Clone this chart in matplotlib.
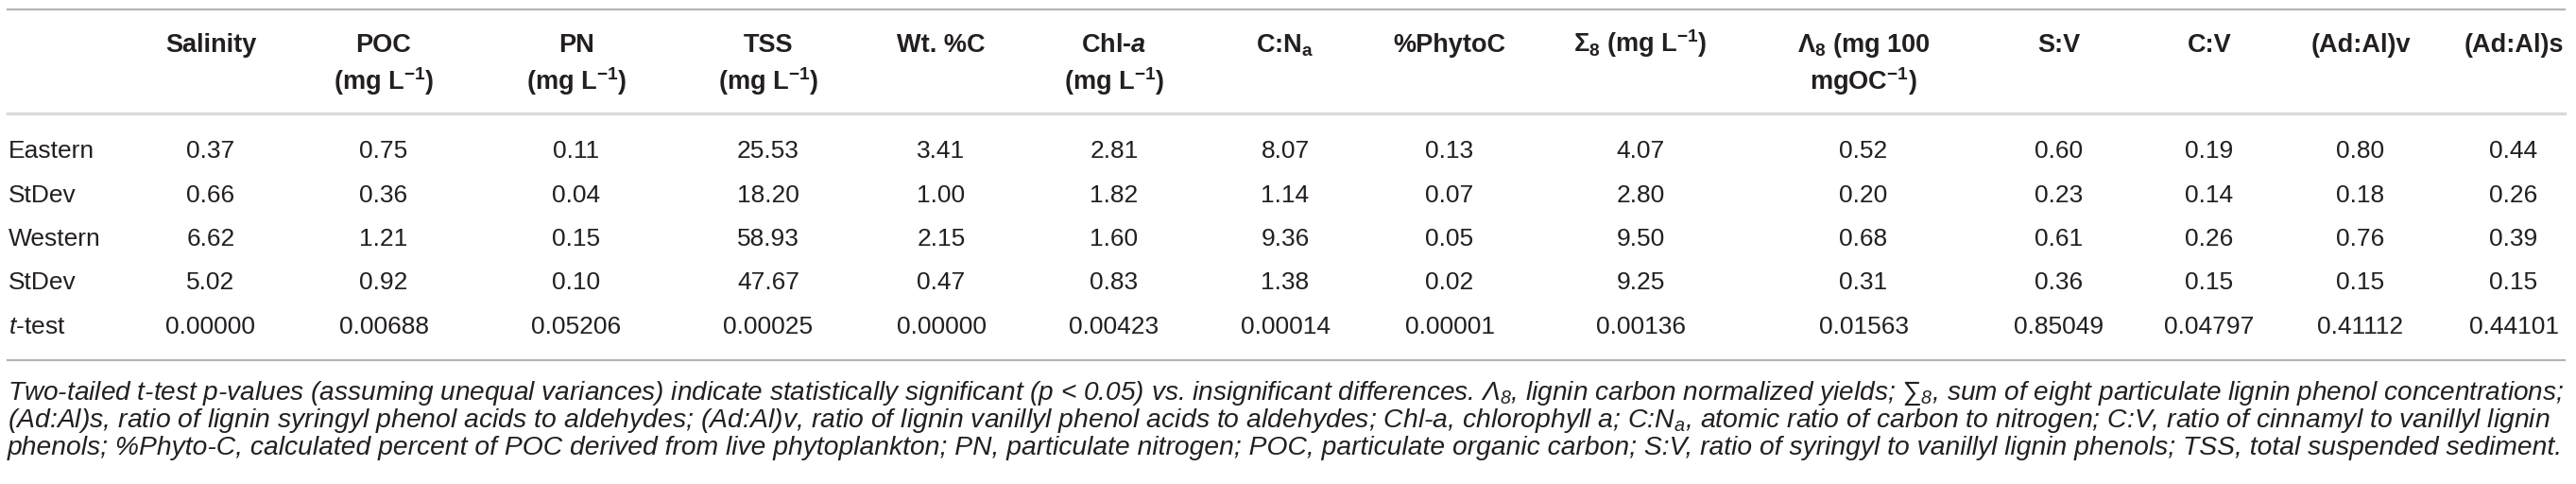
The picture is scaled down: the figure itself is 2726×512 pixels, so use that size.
import matplotlib
matplotlib.use('Agg')
import matplotlib.pyplot as plt

plt.rcParams['font.family'] = ['Liberation Sans', 'DejaVu Sans']
plt.rcParams['mathtext.fontset'] = 'custom'
plt.rcParams['mathtext.rm'] = 'Liberation Sans'
plt.rcParams['mathtext.it'] = 'Liberation Sans:italic'
plt.rcParams['mathtext.bf'] = 'Liberation Sans:bold'
try:
    plt.rcParams['mathtext.bfit'] = 'Liberation Sans:italic:bold'
except KeyError:
    pass
plt.rcParams['mathtext.default'] = 'regular'

# table content
row_labels = ['Eastern', 'StDev', 'Western', 'StDev', r'$\mathit{t}$-test']
head_1 = ['Salinity', 'POC', 'PN', 'TSS', 'Wt. %C', r'Chl-$\mathbfit{a}$', r'C:N$_a$',
          '%PhytoC', r'$\Sigma_8$ (mg L$^{-1}$)', r'$\Lambda_8$ (mg 100', 'S:V', 'C:V',
          '(Ad:Al)v', '(Ad:Al)s']
head_2 = ['', r'(mg L$^{-1}$)', r'(mg L$^{-1}$)', r'(mg L$^{-1}$)', '', r'(mg L$^{-1}$)', '',
          '', '', r'mgOC$^{-1}$)', '', '', '', '']

eastern = [0.37, 0.75, 0.11, 25.53, 3.41, 2.81, 8.07, 0.13, 4.07, 0.52, 0.60, 0.19, 0.80, 0.44]
eastern_sd = [0.66, 0.36, 0.04, 18.20, 1.00, 1.82, 1.14, 0.07, 2.80, 0.20, 0.23, 0.14, 0.18, 0.26]
western = [6.62, 1.21, 0.15, 58.93, 2.15, 1.60, 9.36, 0.05, 9.50, 0.68, 0.61, 0.26, 0.76, 0.39]
western_sd = [5.02, 0.92, 0.10, 47.67, 0.47, 0.83, 1.38, 0.02, 9.25, 0.31, 0.36, 0.15, 0.15, 0.15]
t_test = [0.00000, 0.00688, 0.05206, 0.00025, 0.00000, 0.00423, 0.00014, 0.00001,
          0.00136, 0.01563, 0.85049, 0.04797, 0.41112, 0.44101]

footnote = [
    r'Two-tailed t-test p-values (assuming unequal variances) indicate statistically significant '
    r'(p < 0.05) vs. insignificant differences. $\Lambda_8$, lignin carbon normalized yields; '
    '\u2211' r'$_8$, sum of eight particulate lignin phenol concentrations;',
    r'(Ad:Al)s, ratio of lignin syringyl phenol acids to aldehydes; (Ad:Al)v, ratio of lignin '
    r'vanillyl phenol acids to aldehydes; Chl-a, chlorophyll a; C:N$_a$, atomic ratio of carbon '
    r'to nitrogen; C:V, ratio of cinnamyl to vanillyl lignin',
    r'phenols; %Phyto-C, calculated percent of POC derived from live phytoplankton; PN, '
    r'particulate nitrogen; POC, particulate organic carbon; S:V, ratio of syringyl to vanillyl '
    r'lignin phenols; TSS, total suspended sediment.',
]

# layout (pixels)
col_x = [223, 406, 610, 813, 996, 1179, 1360, 1534, 1736, 1972, 2179, 2338, 2498, 2660]
head_y = [55, 95]
row_y = [167, 213.5, 260, 306.5, 353]
foot_y = [423, 452, 481]
text_col = '#231f20'

fig = plt.figure(figsize=(27.26, 5.12), dpi=100)
ax = fig.add_axes([0, 0, 1, 1])
ax.set_xlim(0, 2726)
ax.set_ylim(512, 0)
ax.axis('off')

ax.plot([8, 2714], [10, 10], color='#b5b5b5', lw=1.6)
ax.plot([8, 2714], [120, 120], color='#dadada', lw=2.4)
ax.plot([8, 2714], [381, 381], color='#b5b5b5', lw=1.6)

for x, h1, h2 in zip(col_x, head_1, head_2):
    ax.text(x, head_y[0], h1, ha='center', va='baseline', fontsize=19.5,
            fontweight='bold', color=text_col)
    if h2:
        ax.text(x, head_y[1], h2, ha='center', va='baseline', fontsize=19.5,
                fontweight='bold', color=text_col)

rows = [eastern, eastern_sd, western, western_sd, t_test]
for i, (label, vals) in enumerate(zip(row_labels, rows)):
    ax.text(9, row_y[i], label, ha='left', va='baseline', fontsize=19, color=text_col)
    fmt = '{:.5f}' if i == 4 else '{:.2f}'
    for x, v in zip(col_x, vals):
        ax.text(x, row_y[i], fmt.format(v), ha='center', va='baseline', fontsize=19,
                color=text_col)

# footnote lines, each fitted to the width of the table
renderer = fig.canvas.get_renderer()
foot_right = [2714, 2700, 2706]
for y, line, right in zip(foot_y, footnote, foot_right):
    t = ax.text(8, y, line, ha='left', va='baseline', fontsize=16, style='italic',
                color=text_col)
    w = t.get_window_extent(renderer).width
    t.set_fontsize(16 * (right - 8) / w)

fig.savefig('out.png', dpi=100)
